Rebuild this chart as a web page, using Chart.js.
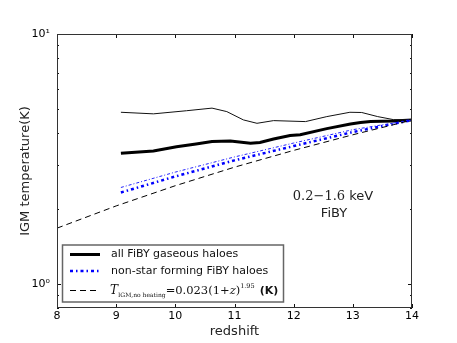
<!DOCTYPE html>
<html>
<head>
<meta charset="utf-8">
<script src="https://cdn.jsdelivr.net/npm/chart.js@4.4.1/dist/chart.umd.min.js"></script>
<style>
  html, body { margin: 0; padding: 0; background: #fff; }
  canvas { display: block; }
</style>
</head>
<body>
<canvas id="chart" width="457" height="343"></canvas>
<script>
// redshift grids and temperatures
const zThick = [9.08, 9.63, 10.02, 10.35, 10.62, 10.93, 11.27, 11.43, 11.66, 11.94, 12.11, 12.56, 12.96, 13.13, 13.3, 13.69, 14];
const tThick = [3.33, 3.40, 3.54, 3.63, 3.71, 3.73, 3.65, 3.68, 3.80, 3.92, 3.95, 4.18, 4.36, 4.42, 4.46, 4.48, 4.53];
const zThin = [9.08, 9.63, 10.19, 10.62, 10.87, 11.15, 11.38, 11.66, 12.2, 12.56, 12.95, 13.15, 13.42, 13.69, 14];
const tThin = [4.86, 4.79, 4.93, 5.05, 4.89, 4.53, 4.39, 4.50, 4.46, 4.67, 4.86, 4.85, 4.67, 4.54, 4.53];
const zBlue = [9.08, 10, 11, 12, 13, 13.5, 14];
const tBlueThin = [2.43, 2.80, 3.22, 3.66, 4.14, 4.33, 4.52];
const tBlueThick = [2.32, 2.69, 3.12, 3.56, 4.05, 4.28, 4.52];
const zNoHeat = [8, 9, 10, 11, 12, 13, 14];
const tNoHeat = [1.67, 2.05, 2.47, 2.93, 3.42, 3.95, 4.52];

const xTicks = [8, 9, 10, 11, 12, 13, 14];
const yMajor = [1, 10];
const yMinor = [0.8, 0.9, 2, 3, 4, 5, 6, 7, 8, 9];
const yLabels = { 1: '10⁰', 10: '10¹' };

const pts = (xs, ys) => xs.map((x, i) => ({ x, y: ys[i] }));

const line = (ctx, x1, y1, x2, y2) => {
  ctx.beginPath();
  ctx.moveTo(x1, y1);
  ctx.lineTo(x2, y2);
  ctx.stroke();
};

// inward ticks, box frame, legend and the band note, matplotlib style
const framePlugin = {
  id: 'frame',
  afterDraw(chart) {
    const { ctx, chartArea: a, scales: { x, y } } = chart;
    ctx.save();
    ctx.strokeStyle = '#111';
    ctx.lineWidth = 1;
    xTicks.forEach(v => {
      const px = Math.round(x.getPixelForValue(v)) + 0.5;
      line(ctx, px, a.bottom, px, a.bottom - 4);
      line(ctx, px, a.top, px, a.top + 4);
    });
    yMajor.forEach(v => {
      const py = Math.round(y.getPixelForValue(v)) + 0.5;
      line(ctx, a.left, py, a.left + 4, py);
      line(ctx, a.right, py, a.right - 4, py);
    });
    yMinor.forEach(v => {
      const py = Math.round(y.getPixelForValue(v)) + 0.5;
      line(ctx, a.left, py, a.left + 2, py);
      line(ctx, a.right, py, a.right - 2, py);
    });
    ctx.strokeStyle = '#333';
    ctx.strokeRect(a.left + 0.5, a.top + 0.5, a.right - a.left - 1, a.bottom - a.top - 1);

    // legend
    const lx = 62.5, ly = 245, lw = 221, lh = 57;
    ctx.fillStyle = '#fff';
    ctx.fillRect(lx, ly, lw, lh);
    ctx.strokeStyle = '#666';
    ctx.lineWidth = 1.5;
    ctx.strokeRect(lx, ly, lw, lh);

    const rows = [254.5, 271, 290.5];
    ctx.strokeStyle = '#000';
    ctx.lineWidth = 3;
    line(ctx, 70, rows[0], 100, rows[0]);
    ctx.strokeStyle = '#0000ff';
    ctx.lineWidth = 2.5;
    ctx.setLineDash([3, 3, 1.5, 3]);
    line(ctx, 70, rows[1], 100, rows[1]);
    ctx.strokeStyle = '#000';
    ctx.lineWidth = 1;
    ctx.setLineDash([6, 4]);
    line(ctx, 70, rows[2], 100, rows[2]);
    ctx.setLineDash([]);

    ctx.fillStyle = '#111';
    ctx.textBaseline = 'middle';
    ctx.textAlign = 'left';
    ctx.font = '11px "DejaVu Sans"';
    ctx.fillText('all FiBY gaseous haloes', 111, rows[0]);
    ctx.fillText('non-star forming FiBY haloes', 111, rows[1]);

    // T_IGM,no heating = 0.023(1+z)^1.95 (K)
    ctx.textBaseline = 'alphabetic';
    const base = 294;
    let cx = 110;
    const put = (txt, font, dy) => {
      ctx.font = font;
      ctx.fillText(txt, cx, base + dy);
      cx += ctx.measureText(txt).width;
    };
    put('T', 'italic 12px "DejaVu Serif"', 0);
    put('IGM,no heating', '6px "DejaVu Serif"', 3);
    put('=0.023(1+', '11.5px "DejaVu Serif"', 0);
    put('z', 'italic 11.5px "DejaVu Serif"', 0);
    put(')', '11.5px "DejaVu Serif"', 0);
    put('1.95', '6.5px "DejaVu Serif"', -6);
    cx += 5;
    put('(K)', 'bold 11px "DejaVu Sans"', 0);

    // band note
    ctx.fillStyle = '#222';
    ctx.font = '13px "DejaVu Serif"';
    const a1 = '0.2−1.6';
    const w1 = ctx.measureText(a1).width;
    ctx.font = '13px "DejaVu Sans"';
    const a2 = ' keV';
    const w2 = ctx.measureText(a2).width;
    let sx = 333 - (w1 + w2) / 2;
    ctx.font = '13px "DejaVu Serif"';
    ctx.fillText(a1, sx, 200);
    ctx.font = '13px "DejaVu Sans"';
    ctx.fillText(a2, sx + w1, 200);
    ctx.textAlign = 'center';
    ctx.fillText('FiBY', 334, 217);
    ctx.restore();
  }
};

const canvas = document.getElementById('chart');

new Chart(canvas, {
  type: 'line',
  data: {
    datasets: [
      {
        label: 'no heating',
        data: pts(zNoHeat, tNoHeat),
        borderColor: '#000',
        borderWidth: 1,
        borderDash: [6, 4]
      },
      {
        label: 'non-star forming (thin)',
        data: pts(zBlue, tBlueThin),
        borderColor: '#2222ff',
        borderWidth: 1,
        borderDash: [3, 2, 1, 2]
      },
      {
        label: 'non-star forming FiBY haloes',
        data: pts(zBlue, tBlueThick),
        borderColor: '#0000ff',
        borderWidth: 2.5,
        borderDash: [3, 3, 1.5, 3]
      },
      {
        label: 'all (thin)',
        data: pts(zThin, tThin),
        borderColor: '#111',
        borderWidth: 1
      },
      {
        label: 'all FiBY gaseous haloes',
        data: pts(zThick, tThick),
        borderColor: '#000',
        borderWidth: 3
      }
    ]
  },
  options: {
    responsive: false,
    animation: false,
    devicePixelRatio: 1,
    layout: { padding: { top: 34, right: 45, left: 0, bottom: 0 } },
    elements: {
      point: { radius: 0 },
      line: { tension: 0, fill: false }
    },
    plugins: {
      legend: { display: false },
      tooltip: { enabled: false }
    },
    scales: {
      x: {
        type: 'linear',
        min: 8,
        max: 14,
        afterFit: s => { s.height = 35; },
        grid: { display: false, drawTicks: false, tickLength: 0 },
        border: { display: false },
        ticks: {
          stepSize: 1,
          padding: 2,
          color: '#000',
          font: { family: 'DejaVu Sans', size: 11 }
        },
        title: {
          display: true,
          text: 'redshift',
          color: '#222',
          font: { family: 'DejaVu Sans', size: 13 },
          padding: { top: 0, bottom: 4 }
        }
      },
      y: {
        type: 'logarithmic',
        min: 0.8,
        max: 10,
        afterFit: s => { s.width = 57; },
        grid: { display: false, drawTicks: false, tickLength: 0 },
        border: { display: false },
        ticks: {
          autoSkip: false,
          padding: 7,
          color: '#000',
          font: { family: 'DejaVu Sans', size: 11 },
          callback: v => yLabels[v] || ''
        },
        title: {
          display: true,
          text: 'IGM temperature(K)',
          color: '#222',
          font: { family: 'DejaVu Sans', size: 13 },
          padding: { top: 18, bottom: 0 }
        }
      }
    }
  },
  plugins: [framePlugin]
});
</script>
</body>
</html>
